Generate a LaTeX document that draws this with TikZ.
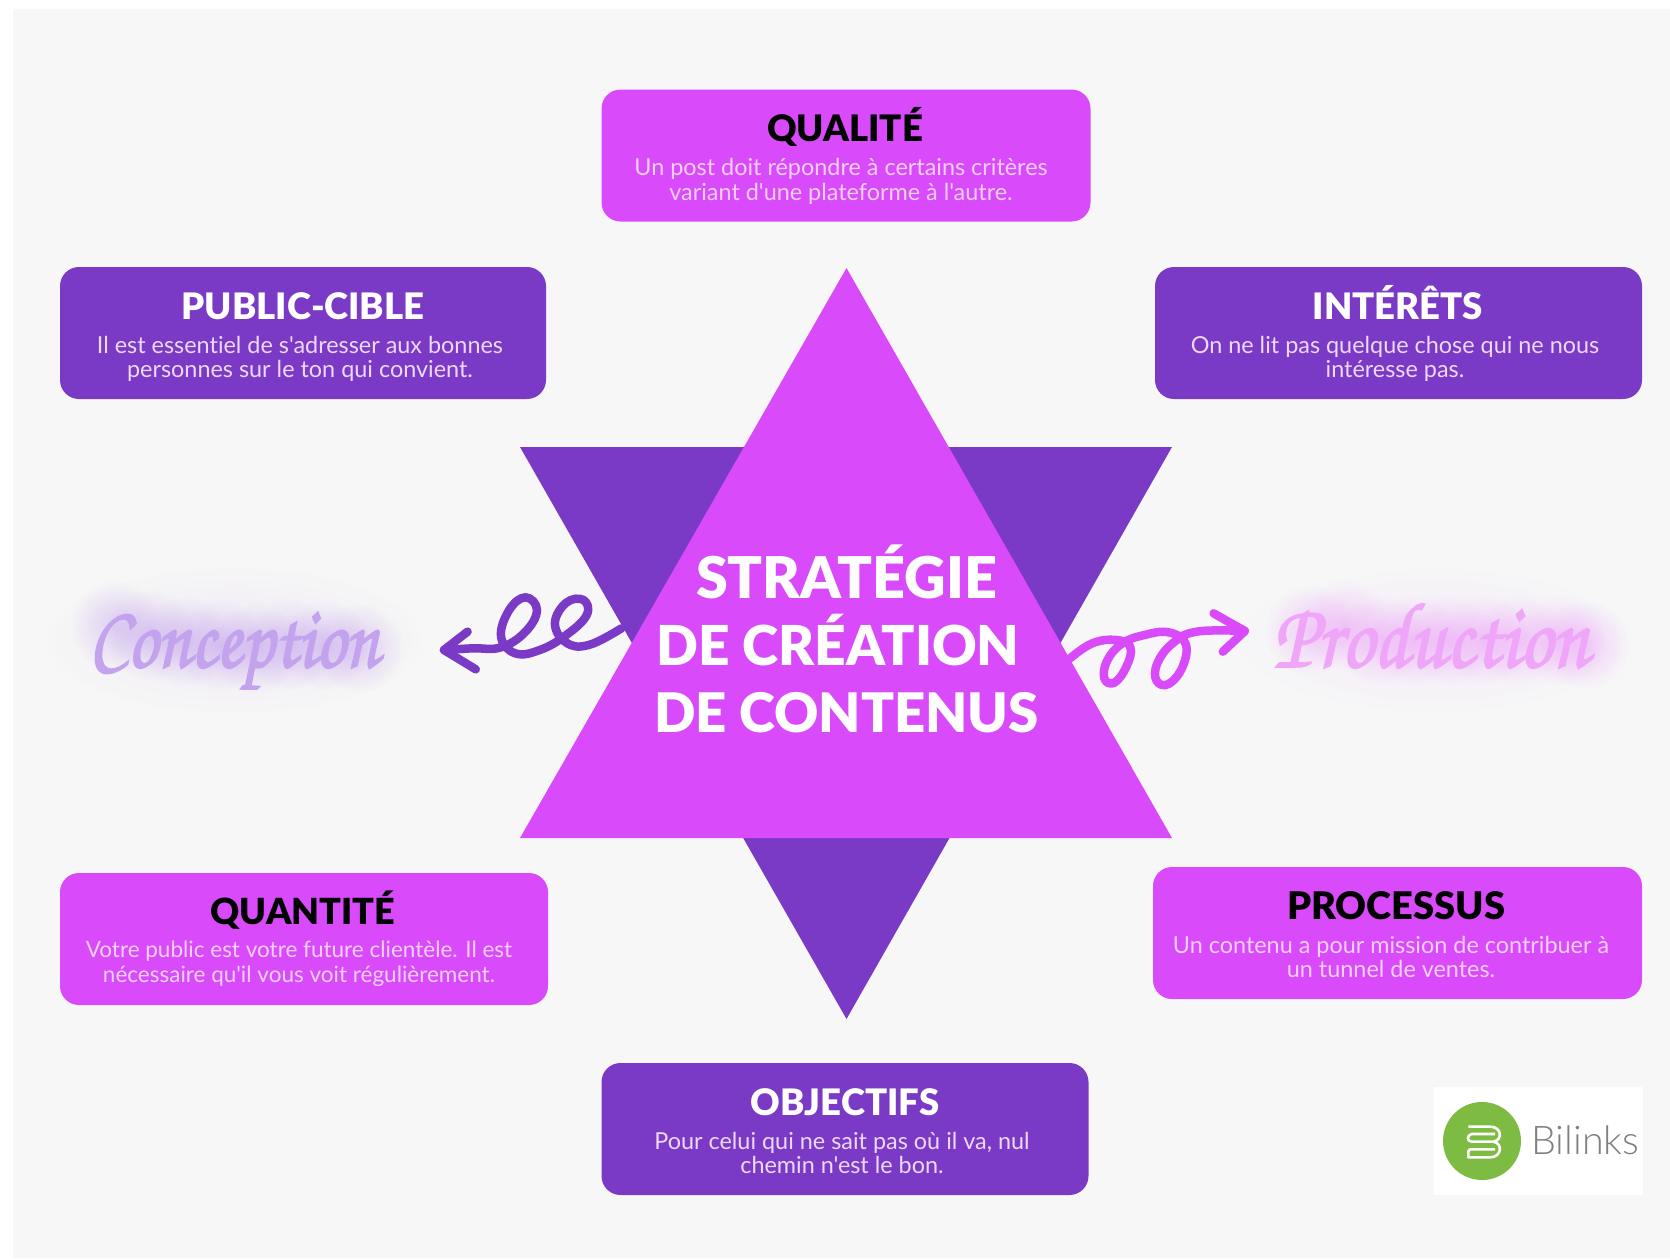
\documentclass[tikz,border=0pt]{standalone}
\usepackage{fontspec}
\setmainfont{Lato}
\usetikzlibrary{fadings}
\definecolor{pinkbox}{HTML}{D94BFA}
\definecolor{purplebox}{HTML}{7A3AC6}
\definecolor{bgpage}{HTML}{F7F7F7}
\definecolor{bodypink}{HTML}{F5CFFD}
\definecolor{bodypurple}{HTML}{EDD8FA}
\definecolor{neonpurple}{HTML}{C3A2EE}
\definecolor{neonpink}{HTML}{EFA6F8}
\definecolor{glowpurple}{HTML}{9A5CE6}
\definecolor{glowpink}{HTML}{E45CFA}
\definecolor{logogreen}{HTML}{7DBB42}
\definecolor{logogrey}{HTML}{7F7F7F}
\newfontfamily\blackfont{Lato Black}
\newfontfamily\bodyfont{Lato}[Ligatures=NoCommon]
\newcommand{\neonfont}{\usefont{T1}{pzc}{m}{it}}
\newcommand{\neonstroke}{\special{pdf:code 2 Tr 1.6 w}}
\tikzfading[name=softglow,inner color=transparent!35,outer color=transparent!100]
\tikzset{
  x=1pt,y=-1pt,
  cardbox/.style={rounded corners=19pt,minimum width=#1,minimum height=132pt,inner sep=0pt},
  pinkcard/.style={cardbox=#1,fill=pinkbox},
  purplecard/.style={cardbox=#1,fill=purplebox},
  headtxt/.style={font=\blackfont\fontsize{#1}{38}\selectfont,inner sep=0pt,anchor=base},
  headtxt/.default=36.5,
  bodytxt/.style={font=\bodyfont\fontsize{#1}{24.5}\selectfont,align=center,inner sep=0pt},
  bodytxt/.default=23.4,
  titletxt/.style={font=\blackfont\fontsize{#1}{67}\selectfont,text=white,inner sep=0pt,anchor=base},
  loopline/.style={line width=8.5pt,line cap=round,line join=round},
  glowblob/.style={path fading=softglow,opacity=.36}
}
\begin{document}
\begin{tikzpicture}
\useasboundingbox (0,0) rectangle (1670,1258);
\fill[white] (0,0) rectangle (1670,1258);
\fill[bgpage] (13,8.5) rectangle (1670,1258);
% triangles
\coordinate (dl) at (520,447); \coordinate (dr) at (1172,447); \coordinate (db) at (846.5,1019);
\coordinate (ut) at (846.5,268); \coordinate (ul) at (520,838); \coordinate (ur) at (1172,838);
\fill[purplebox] (dl) -- (dr) -- (db) -- cycle;
\fill[pinkbox] (ut) -- (ur) -- (ul) -- cycle;
% cards
\node[pinkcard=489pt] (qualite) at (846,155.5) {};
\node[purplecard=486pt] (public) at (303,333) {};
\node[purplecard=487pt] (interets) at (1398.5,333) {};
\node[pinkcard=488pt] (quantite) at (304,939) {};
\node[pinkcard=489pt] (processus) at (1397.5,933) {};
\node[purplecard=487pt] (objectifs) at (845,1129) {};
% headings
\node[headtxt] (h1) at (845,141) {QUALITÉ};
\node[headtxt,text=white] (h2) at (303,319) {PUBLIC-CIBLE};
\node[headtxt,text=white] (h3) at (1398,319) {INTÉRÊTS};
\node[headtxt=36] (h4) at (303,924) {QUANTITÉ};
\node[headtxt=38] (h5) at (1396,919) {PROCESSUS};
\node[headtxt,text=white] (h6) at (845,1115) {OBJECTIFS};
% bodies
\node[bodytxt,text=bodypink] (b1) at (841,181.5) {Un post doit répondre à certains critères\\variant d'une plateforme à l'autre.};
\node[bodytxt,text=bodypurple] (b2) at (300,359) {Il est essentiel de s'adresser aux bonnes\\personnes sur le ton qui convient.};
\node[bodytxt,text=bodypurple] (b3) at (1395,359) {On ne lit pas quelque chose qui ne nous\\intéresse pas.};
\node[bodytxt=22.5,text=bodypink] (b4) at (299,964) {Votre public est votre future clientèle. Il est\\nécessaire qu'il vous voit régulièrement.};
\node[bodytxt,text=bodypink] (b5) at (1391,957) {Un contenu a pour mission de contribuer à\\un tunnel de ventes.};
\node[bodytxt,text=bodypurple] (b6) at (842,1153) {Pour celui qui ne sait pas où il va, nul\\chemin n'est le bon.};
% title
\node[titletxt=57.5] (t1) at (846.5,598) {STRATÉGIE};
\node[titletxt=55] (t2) at (838,665) {DE CRÉATION};
\node[titletxt=54.5] (t3) at (846.5,732) {DE CONTENUS};
% left glow and text
\fill[glowpurple,glowblob,opacity=.14] (234,640) ellipse [x radius=190,y radius=75];
\foreach \cx/\cy in {115/625,150/635,185/642,220/645,255/648,290/645,325/645,360/648}{
  \fill[glowpurple,glowblob] (\cx,\cy) circle [radius=45];}
\node[font=\neonfont\fontsize{74}{74}\selectfont,text=neonpurple,inner sep=0pt,anchor=base] (conc) at (234,667) {\scalebox{1}[1.2]{\neonstroke Conception}};
% right glow and text
\fill[glowpink,glowblob,opacity=.14] (1434,640) ellipse [x radius=195,y radius=72];
\foreach \cx/\cy in {1310/630,1345/625,1380/640,1415/640,1450/640,1485/640,1520/640,1560/640,1585/645}{
  \fill[glowpink,glowblob] (\cx,\cy) circle [radius=45];}
\node[font=\neonfont\fontsize{81}{81}\selectfont,text=neonpink,inner sep=0pt,anchor=base] (prod) at (1431,667) {\scalebox{1}[1.15]{\neonstroke Production}};
% left curly arrow
\begin{scope}[shift={(40,560)},x=0.408pt,y=-0.3333pt]
\draw[purplebox,loopline] plot[smooth,tension=.7] coordinates {(1425,205) (1345,255) (1290,248) (1262,190) (1290,128) (1332,120) (1340,165) (1290,225) (1225,270) (1165,280) (1130,230) (1150,150) (1190,112) (1218,150) (1190,215) (1130,262) (1060,265) (990,270)};
\draw[purplebox,loopline] (1048,215) -- (990,270) -- (1068,328);
\end{scope}
% right curly arrow
\begin{scope}[shift={(1040,560)},x=0.4018pt,y=-0.3333pt]
\draw[pinkbox,loopline] plot[smooth,tension=.7] coordinates {(75,295) (130,250) (190,240) (225,262) (215,320) (185,368) (160,355) (168,300) (205,250) (260,225) (320,217) (362,250) (355,320) (320,372) (290,362) (292,310) (330,250) (390,215) (510,213)};
\draw[pinkbox,loopline] (432,160) -- (510,213) -- (455,275);
\end{scope}
% logo
\fill[white] (1434,1087) rectangle (1643,1195);
\fill[logogreen] (1482,1141) circle [radius=39];
\begin{scope}[shift={(1400,1060)},x=0.3333pt,y=-0.3333pt]
\draw[white,line width=2.6pt,line join=round] (205,200) -- (270,200) .. controls (305,200) and (310,240) .. (280,245) -- (215,245) .. controls (200,245) and (200,225) .. (215,222) -- (285,222);
\draw[white,line width=2.6pt,line join=round] (280,245) .. controls (310,250) and (305,292) .. (270,292) -- (205,292) -- (205,275) .. controls (205,268) and (210,268) .. (215,268) -- (285,268);
\end{scope}
\node[font=\fontspec{Lato Light}\fontsize{39.5}{40}\selectfont,text=logogrey,inner sep=0pt,anchor=base west] (logo) at (1531,1154) {Bilinks};
\end{tikzpicture}
\end{document}
